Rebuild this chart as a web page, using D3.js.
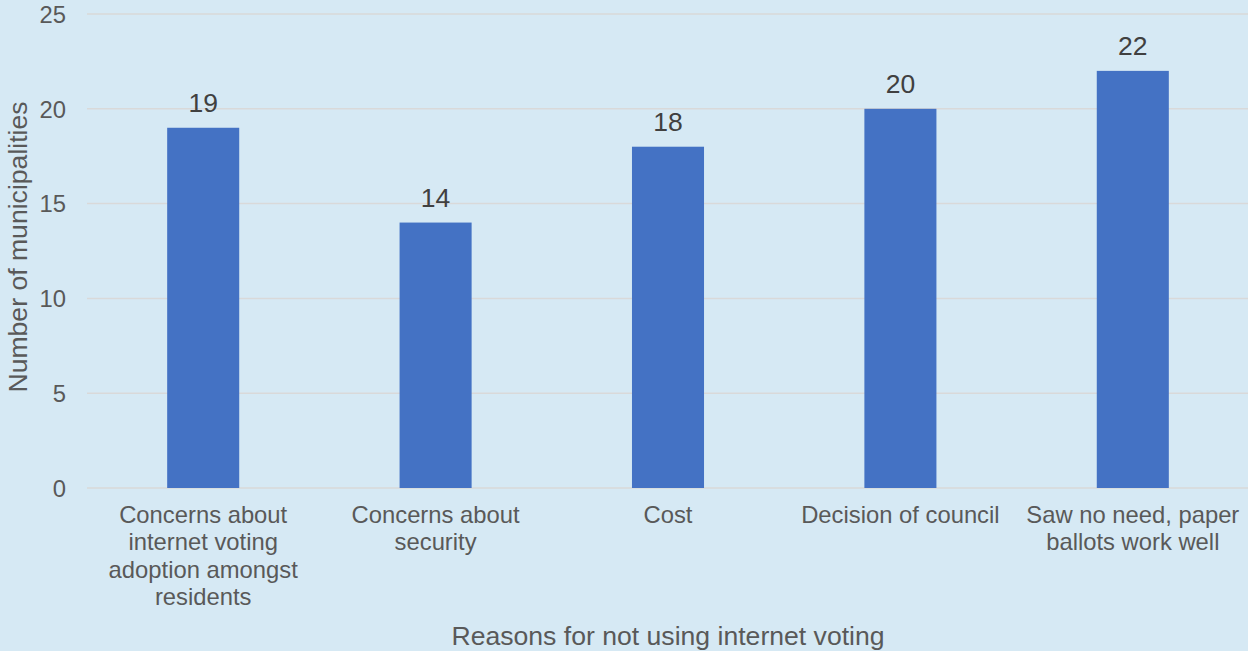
<!DOCTYPE html>
<html>
<head>
<meta charset="utf-8">
<script src="https://cdn.jsdelivr.net/npm/d3@7"></script>
<style>
html,body{margin:0;padding:0;background:#d6e9f4;}
svg{display:block;font-family:"Liberation Sans",Arial,sans-serif;}
</style>
</head>
<body>
<svg id="chart" width="1248" height="651"></svg>
<script>
const categories = [
  "Concerns about internet voting adoption amongst residents",
  "Concerns about security",
  "Cost",
  "Decision of council",
  "Saw no need, paper ballots work well"
];
const categoryLines = [
  ["Concerns about", "internet voting", "adoption amongst", "residents"],
  ["Concerns about", "security"],
  ["Cost"],
  ["Decision of council"],
  ["Saw no need, paper", "ballots work well"]
];
const values = [19, 14, 18, 20, 22];
const yTicks = [0, 5, 10, 15, 20, 25];
const yTitle = "Number of municipalities";
const xTitle = "Reasons for not using internet voting";

const W = 1248, H = 651;
const m = {left: 87, right: -1, top: 14, bottom: 163};
const svg = d3.select("#chart");
svg.append("rect").attr("width", W).attr("height", H).attr("fill", "#d6e9f4");

const x = d3.scaleBand().domain(categories).range([m.left, W - m.right]).paddingInner(0.69).paddingOuter(0.345);
const y = d3.scaleLinear().domain([0, 25]).range([H - m.bottom, m.top]);

// gridlines
svg.append("g").selectAll("line").data(yTicks).join("line")
  .attr("x1", m.left).attr("x2", W - m.right)
  .attr("y1", d => y(d)).attr("y2", d => y(d))
  .attr("stroke", "#d9d9d9").attr("stroke-width", 1.5);

// y axis labels
const yAxis = d3.axisLeft(y).tickValues(yTicks).tickSize(0).tickPadding(0);
const ga = svg.append("g").attr("transform", `translate(${m.left - 21},0)`).call(yAxis);
ga.select(".domain").remove();
ga.selectAll("text").attr("font-size", 23.8).attr("fill", "#595959")
  .attr("font-family", "Liberation Sans, Arial, sans-serif").attr("dy", "0.35em");

// bars
svg.append("g").selectAll("rect").data(values).join("rect")
  .attr("x", (d, i) => x(categories[i]))
  .attr("width", x.bandwidth())
  .attr("y", d => y(d))
  .attr("height", d => y(0) - y(d))
  .attr("fill", "#4472c4");

// data labels
svg.append("g").selectAll("text").data(values).join("text")
  .attr("x", (d, i) => x(categories[i]) + x.bandwidth() / 2)
  .attr("y", d => y(d) - 16)
  .attr("text-anchor", "middle")
  .attr("font-size", 26.5).attr("fill", "#404040")
  .text(d => d);

// category labels
const cl = svg.append("g");
categoryLines.forEach((lines, i) => {
  const t = cl.append("text")
    .attr("x", x(categories[i]) + x.bandwidth() / 2)
    .attr("y", y(0) + 35)
    .attr("text-anchor", "middle")
    .attr("font-size", 23.8).attr("fill", "#595959");
  lines.forEach((ln, j) => {
    t.append("tspan").attr("x", x(categories[i]) + x.bandwidth() / 2)
      .attr("y", y(0) + 35 + j * 27.3).text(ln);
  });
});

// axis titles
svg.append("text")
  .attr("x", (m.left + W - m.right) / 2 - 0).attr("y", 645)
  .attr("text-anchor", "middle").attr("font-size", 26.6).attr("fill", "#595959")
  .text(xTitle);
svg.append("text")
  .attr("transform", `translate(27,247) rotate(-90)`)
  .attr("text-anchor", "middle").attr("font-size", 26.6).attr("fill", "#595959")
  .text(yTitle);
</script>
</body>
</html>
